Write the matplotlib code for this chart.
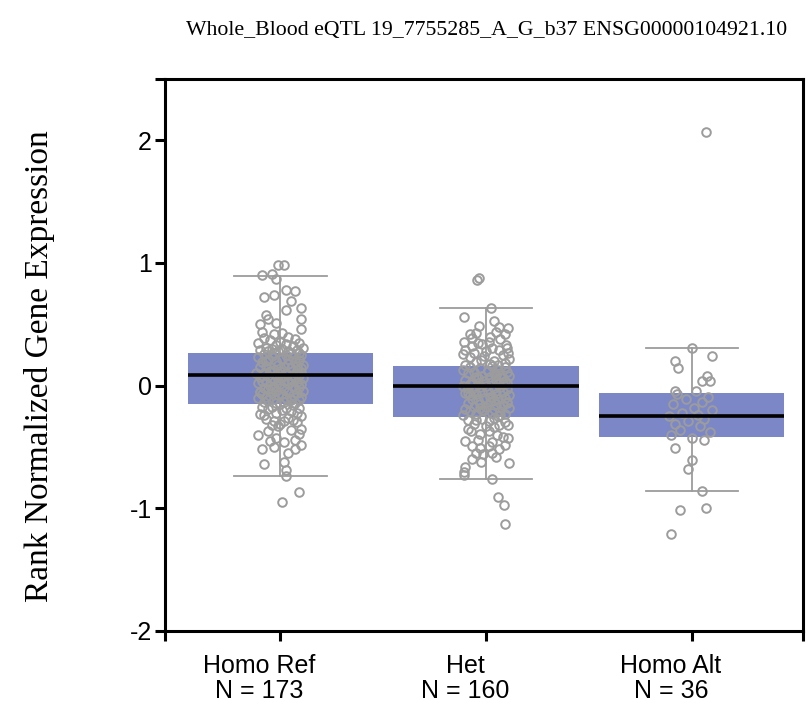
import matplotlib
matplotlib.use("Agg")
import matplotlib.pyplot as plt
import matplotlib.transforms as mtransforms
import numpy as np

# genotype groups
groups = ["Homo Ref", "Het", "Homo Alt"]
counts = [173, 160, 36]

# box statistics
medians = [0.09, 0.00, -0.25]
q1s = [-0.147, -0.253, -0.415]
q3s = [0.27, 0.163, -0.062]
whis_lo = [-0.74, -0.76, -0.86]
whis_hi = [0.89, 0.63, 0.31]

# Homo Ref points: expression values and horizontal jitter
ref_y = [
    0.98, 0.98, 0.90, 0.91, 0.87, 0.78, 0.77, 0.74, 0.72, 0.69,
    0.63, 0.62, 0.58, 0.54, 0.54, 0.51, 0.50, 0.46, 0.44, 0.43,
    0.42, 0.40, 0.39, 0.38, 0.37, 0.36, 0.35, 0.35, 0.34, 0.33,
    0.32, 0.31, 0.31, 0.30, 0.30, 0.29, 0.29, 0.28, 0.28, 0.28,
    0.27, 0.27, 0.27,
    0.26, 0.25, 0.25, 0.24, 0.23, 0.23, 0.22, 0.21, 0.21, 0.20,
    0.19, 0.19, 0.18, 0.17, 0.17, 0.16, 0.15, 0.15, 0.14, 0.13,
    0.13, 0.12, 0.12, 0.11, 0.10, 0.10, 0.10, 0.09, 0.09, 0.09,
    0.08, 0.08, 0.07, 0.07, 0.06, 0.06, 0.05, 0.05, 0.04, 0.04,
    0.03, 0.03, 0.02, 0.02, 0.01, 0.01, 0.00, 0.00, -0.01, -0.01,
    -0.02, -0.02, -0.03, -0.03, -0.04, -0.04, -0.05, -0.05, -0.06, -0.06,
    -0.07, -0.07, -0.08, -0.08, -0.09, -0.09, -0.10, -0.10, -0.11, -0.11,
    -0.12, -0.12, -0.13, -0.13, -0.14, -0.14, 0.22, 0.16, 0.11, 0.06,
    0.00, -0.05, -0.10, 0.20, 0.14, -0.03, -0.12,
    -0.17, -0.17, -0.18, -0.18, -0.24, -0.22, -0.21, -0.25, -0.29, -0.29,
    -0.28, -0.32, -0.33, -0.35, -0.40, -0.39, -0.43, -0.46, -0.44, -0.48,
    -0.50, -0.52, -0.52, -0.64, -0.62, -0.69, -0.74, -0.87, -0.95,
    -0.15, -0.16, -0.19, -0.20, -0.22, -0.23, -0.26, -0.27, -0.30, -0.31,
    -0.36, -0.37, -0.45, -0.55,
]
ref_dx = [
    -0.01, 0.02, -0.09, -0.04, -0.02, 0.03, 0.07, -0.03, -0.08, 0.05,
    0.10, 0.03, -0.07, -0.06, 0.10, -0.02, -0.10, 0.10, -0.09, 0.01,
    -0.03, 0.04, -0.08, 0.07, -0.05, 0.00, 0.09, -0.11, 0.03, -0.02,
    0.06, -0.07, 0.11, 0.01, -0.04, 0.08, -0.10, 0.04, -0.01, -0.06,
    0.09, -0.03, 0.05,
    -0.08, 0.03, 0.10, -0.04, 0.06, -0.11, 0.01, -0.06, 0.09, -0.02,
    0.07, -0.09, 0.04, -0.01, 0.11, -0.07, 0.02, -0.10, 0.05, -0.03,
    0.08, -0.05, 0.00, 0.10, -0.08, 0.03, -0.12, 0.06, -0.02, 0.09,
    -0.06, 0.01, -0.10, 0.07, -0.04, 0.11, -0.01, 0.05, -0.09, 0.02,
    0.08, -0.07, 0.04, -0.11, 0.00, 0.10, -0.05, 0.06, -0.03, 0.09,
    -0.08, 0.02, 0.07, -0.06, 0.11, -0.02, 0.04, -0.10, 0.08, -0.04,
    0.01, -0.09, 0.06, -0.01, 0.10, -0.07, 0.03, -0.11, 0.05, -0.03,
    0.09, -0.06, 0.02, -0.08, 0.07, -0.02, 0.04, 0.08, -0.05, 0.00,
    0.06, -0.10, 0.03, -0.07, 0.10, -0.04, 0.05,
    -0.09, -0.04, 0.03, 0.09, -0.08, -0.02, 0.05, 0.10, -0.03, 0.02,
    0.06, -0.04, -0.01, 0.10, -0.11, 0.09, -0.02, 0.02, 0.07, 0.10,
    -0.03, 0.07, -0.09, -0.08, 0.02, 0.03, 0.03, 0.09, 0.01,
    0.00, 0.06, -0.06, 0.01, 0.08, -0.10, 0.04, -0.07, 0.08, 0.00,
    0.05, -0.06, -0.05, 0.04,
]

# Het points
het_y = [
    0.88, 0.865, 0.63, 0.56, 0.525, 0.49, 0.48, 0.47, 0.43, 0.42,
    0.44, 0.42, 0.36, 0.35, 0.36, 0.33, 0.29, 0.27, 0.28, 0.29,
    0.27, 0.23, 0.21, 0.20, 0.185, 0.17, 0.40, 0.38, 0.32, 0.31,
    0.25, 0.24, 0.22, 0.19, 0.18, 0.17, 0.34, 0.26, 0.31, 0.39,
    0.16, 0.15, 0.15, 0.14, 0.13, 0.13, 0.12, 0.11, 0.11, 0.10,
    0.10, 0.09, 0.08, 0.08, 0.07, 0.07, 0.06, 0.05, 0.05, 0.04,
    0.04, 0.03, 0.03, 0.02, 0.02, 0.01, 0.01, 0.00, 0.00, -0.01,
    -0.01, -0.02, -0.02, -0.03, -0.04, -0.04, -0.05, -0.05, -0.06, -0.07,
    -0.07, -0.08, -0.08, -0.09, -0.10, -0.10, -0.11, -0.11, -0.12, -0.13,
    -0.13, -0.14, -0.15, -0.15, -0.16, -0.17, -0.17, -0.18, -0.19, -0.19,
    -0.20, -0.21, -0.21, -0.22, -0.23, -0.23, -0.24, -0.25, 0.12, 0.06,
    0.01, -0.03, -0.09, -0.14, -0.20, 0.09, -0.06, -0.12, -0.18, -0.24,
    -1.13, -0.97, -0.91, -0.76, -0.73, -0.70, -0.66, -0.63, -0.62, -0.56,
    -0.55, -0.55, -0.52, -0.51, -0.495, -0.495, -0.43, -0.40, -0.39, -0.37,
    -0.37, -0.32, -0.32, -0.29, -0.28, -0.28, -0.26, -0.27, -0.30, -0.31,
    -0.33, -0.34, -0.35, -0.42, -0.44, -0.46, -0.48, -0.58, -0.60, -0.45,
]
het_dx = [
    -0.035, -0.045, 0.025, -0.105, 0.04, -0.032, 0.065, 0.105, -0.05, -0.08,
    0.05, 0.09, -0.105, -0.04, 0.015, 0.097, -0.10, -0.06, 0.00, 0.065,
    0.105, -0.08, -0.025, 0.04, 0.09, -0.10, 0.02, 0.07, -0.07, 0.03,
    0.08, -0.01, 0.11, -0.05, 0.02, 0.06, -0.02, -0.11, 0.10, -0.07,
    0.03, -0.08, 0.09, -0.03, 0.06, -0.11, 0.01, 0.10, -0.06, 0.04,
    -0.09, 0.07, -0.02, 0.11, -0.05, 0.02, 0.08, -0.10, 0.05, -0.01,
    0.09, -0.07, 0.03, -0.04, 0.10, -0.08, 0.06, 0.00, -0.11, 0.07,
    -0.03, 0.04, -0.09, 0.10, -0.06, 0.01, 0.08, -0.02, -0.10, 0.05,
    -0.05, 0.11, -0.08, 0.03, -0.01, 0.09, -0.07, 0.06, -0.04, 0.02,
    0.10, -0.09, 0.05, -0.03, 0.08, -0.06, 0.00, 0.11, -0.10, 0.04,
    -0.02, 0.07, -0.08, 0.03, -0.05, 0.09, -0.11, 0.06, 0.01, -0.04,
    0.08, -0.07, 0.02, 0.10, -0.01, 0.05, -0.09, 0.04, -0.03, 0.07,
    0.09, 0.085, 0.06, 0.03, -0.105, -0.105, -0.10, 0.11, -0.025, -0.015,
    -0.05, 0.03, 0.065, -0.03, -0.07, 0.015, 0.105, 0.055, -0.03, -0.075,
    0.015, 0.065, 0.105, 0.015, -0.05, -0.09, 0.04, -0.02, 0.09, -0.06,
    0.00, 0.04, -0.09, 0.08, -0.04, 0.03, 0.09, 0.05, -0.07, -0.10,
]

# Homo Alt points
alt_y = [
    2.07, 0.31, 0.245, 0.20, 0.14, 0.076, 0.035, 0.035, -0.04, -0.04,
    -0.07, -0.09, -0.11, -0.13, -0.15, -0.18, -0.20, -0.22, -0.24, -0.25,
    -0.27, -0.29, -0.31, -0.33, -0.36, -0.38, -0.40,
    -0.43, -0.44, -0.51, -0.61, -0.68, -0.86, -1.00, -1.01, -1.21,
]
alt_dx = [
    0.07, 0.00, 0.10, -0.08, -0.066, 0.075, 0.05, 0.09, -0.08, 0.02,
    -0.07, 0.08, -0.03, 0.05, -0.09, 0.01, 0.10, -0.05, 0.03, -0.11,
    0.06, -0.02, -0.08, 0.04, -0.06, 0.09, -0.10,
    0.00, 0.06, -0.08, 0.00, -0.02, 0.05, 0.07, -0.06, -0.10,
]

points_y = [ref_y, het_y, alt_y]
points_dx = [ref_dx, het_dx, alt_dx]

box_color = "#7b87c7"
pt_color = "#9c9c9c"

fig = plt.figure(figsize=(8.08, 7.14), dpi=100)
ax = fig.add_axes([165 / 808, 83 / 714, 638 / 808, 552 / 714])

positions = np.arange(len(groups))
stats = []
for i in range(len(groups)):
    stats.append(dict(med=medians[i], q1=q1s[i], q3=q3s[i],
                      whislo=whis_lo[i], whishi=whis_hi[i], fliers=[]))

bp = ax.bxp(stats, positions=positions, widths=0.9, capwidths=0.45,
            patch_artist=True, showfliers=False,
            boxprops=dict(facecolor=box_color, edgecolor="none", linewidth=0),
            whiskerprops=dict(color=pt_color, linewidth=1.3),
            capprops=dict(color=pt_color, linewidth=1.3),
            medianprops=dict(color="black", linewidth=2.6))
for b in bp["boxes"]:
    b.set_zorder(1)
for m in bp["medians"]:
    m.set_zorder(4)

for i in range(len(groups)):
    xs = positions[i] + np.array(points_dx[i])
    ax.plot(xs, points_y[i], linestyle="none", marker="o", markersize=6.2,
            markerfacecolor="none", markeredgecolor=pt_color,
            markeredgewidth=1.4, zorder=3)

ax.set_xlim(-0.56, 2.54)
ax.set_ylim(-2, 2.5)

ax.set_yticks([-2, -1, 0, 1, 2])
ax.set_yticklabels(["-2", "-1", "0", "1", "2"])
ax.set_yticks([2.5], minor=True)
ax.set_xticks(positions)
ax.set_xticklabels([f"{g}\nN = {n}" for g, n in zip(groups, counts)],
                   linespacing=1.05)
ax.set_xticks([-0.56, 2.54], minor=True)

ax.tick_params(axis="both", which="both", length=7.5, width=2.2,
               color="black", direction="out")
ax.tick_params(axis="y", labelsize=18, pad=2)
ax.tick_params(axis="x", labelsize=18, pad=9)
for lab in ax.get_yticklabels() + ax.get_xticklabels():
    lab.set_fontfamily("Liberation Sans")

offset = mtransforms.ScaledTranslation(-0.21, 0, fig.dpi_scale_trans)
for lab in ax.get_xticklabels():
    lab.set_transform(lab.get_transform() + offset)

for s in ax.spines.values():
    s.set_linewidth(2.2)
    s.set_color("black")

fig.text(487 / 808, 1 - 30 / 714,
         "Whole_Blood eQTL 19_7755285_A_G_b37 ENSG00000104921.10",
         ha="center", va="center", fontsize=15.7, family="Liberation Serif")
fig.text(40 / 808, 1 - 366 / 714, "Rank Normalized Gene Expression",
         rotation=90, ha="center", va="center", fontsize=24,
         family="Liberation Serif")

fig.savefig("out.png", dpi=100, facecolor="white")
